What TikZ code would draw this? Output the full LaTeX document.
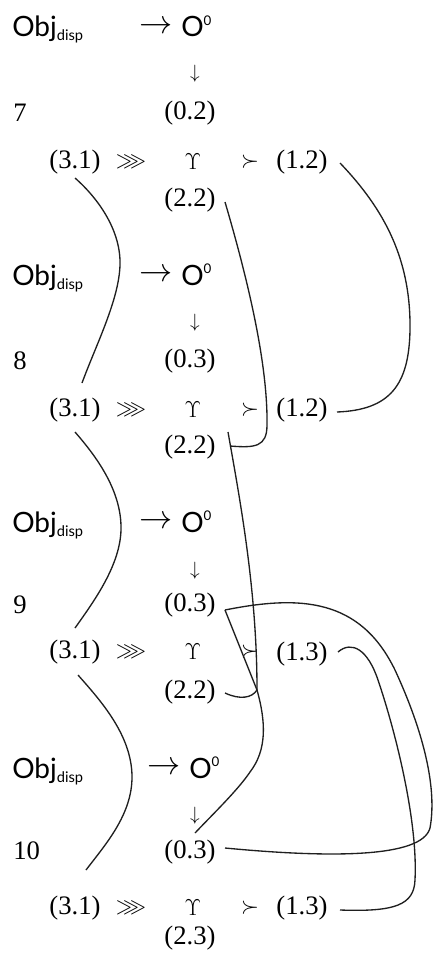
\documentclass[tikz,border=0pt]{standalone}
\usepackage{amssymb}
\usepackage{fontspec}
\newfontfamily\objfont{Lato}
\newfontfamily\numfont{Liberation Serif}
\usetikzlibrary{calc}
\tikzset{
  lbl/.style={inner sep=0pt, font=\numfont\fontsize{20}{24}\selectfont},
  ups/.style={inner sep=0pt, font=\fontsize{18}{20}\selectfont},
  sym/.style={inner sep=0pt, font=\fontsize{17}{20}\selectfont},
  arr/.style={inner sep=0pt, font=\fontsize{24}{26}\selectfont},
  darr/.style={inner sep=0pt, font=\fontsize{15}{18}\selectfont},
  objlbl/.style={inner sep=0pt, anchor=base west, font=\objfont\fontsize{21}{24}\selectfont},
  link/.style={draw=black!88, line width=1pt}
}
\newcommand{\objtxt}{Obj\raisebox{-3pt}{\fontsize{11}{11}\selectfont disp}}
\newcommand{\otxt}{O\raisebox{8.5pt}{\fontsize{10}{10}\selectfont 0}}
\begin{document}
\begin{tikzpicture}[x=0.75pt,y=-0.75pt]
\useasboundingbox (0,0) rectangle (435,959);
% block 7
\node[objlbl] (obj7) at (12,37) {\objtxt};
\node[arr] (ar7) at (156,27) {$\rightarrow$};
\node[objlbl] (o7) at (181,37) {\otxt};
\node[darr] (dn7) at (195,74) {$\downarrow$};
\node[lbl, anchor=west] (n7) at (13,113) {7};
\node[lbl] (z7) at (190,113) {(0.2)};
\node[lbl] (a7) at (75,162) {(3.1)};
\node[sym] (g7) at (131,162) {$\ggg$};
\node[ups] (u7) at (193,162) {$\Upsilon$};
\node[sym] (s7) at (250,162) {$\succ$};
\node[lbl] (c7) at (302,162) {(1.2)};
\node[lbl] (d7) at (190,200) {(2.2)};
% block 8
\node[objlbl] (obj8) at (12,285) {\objtxt};
\node[arr] (ar8) at (156,275) {$\rightarrow$};
\node[objlbl] (o8) at (181,285) {\otxt};
\node[darr] (dn8) at (195,323) {$\downarrow$};
\node[lbl, anchor=west] (n8) at (13,361) {8};
\node[lbl] (z8) at (190,361) {(0.3)};
\node[lbl] (a8) at (75,410) {(3.1)};
\node[sym] (g8) at (131,410) {$\ggg$};
\node[ups] (u8) at (193,410) {$\Upsilon$};
\node[sym] (s8) at (250,410) {$\succ$};
\node[lbl] (c8) at (302,410) {(1.2)};
\node[lbl] (d8) at (190,447) {(2.2)};
% block 9
\node[objlbl] (obj9) at (12,532) {\objtxt};
\node[arr] (ar9) at (156,522) {$\rightarrow$};
\node[objlbl] (o9) at (181,532) {\otxt};
\node[darr] (dn9) at (195,571) {$\downarrow$};
\node[lbl, anchor=west] (n9) at (13,605) {9};
\node[lbl] (z9) at (190,605) {(0.3)};
\node[lbl] (a9) at (75,652) {(3.1)};
\node[sym] (g9) at (131,652) {$\ggg$};
\node[ups] (u9) at (193,652) {$\Upsilon$};
\node[sym] (s9) at (250,652) {$\succ$};
\node[lbl] (c9) at (302,654) {(1.3)};
\node[lbl] (d9) at (190,692) {(2.2)};
% block 10
\node[objlbl] (obj10) at (12,778) {\objtxt};
\node[arr] (ar10) at (164,768) {$\rightarrow$};
\node[objlbl] (o10) at (189,778) {\otxt};
\node[darr] (dn10) at (195,816) {$\downarrow$};
\node[lbl, anchor=west] (n10) at (13,851) {10};
\node[lbl] (z10) at (190,852) {(0.3)};
\node[lbl] (a10) at (75,908) {(3.1)};
\node[sym] (g10) at (131,908) {$\ggg$};
\node[ups] (u10) at (193,908) {$\Upsilon$};
\node[sym] (s10) at (250,908) {$\succ$};
\node[lbl] (c10) at (302,908) {(1.3)};
\node[lbl] (d10) at (190,938) {(2.3)};
% junction
\coordinate (j9) at ($(d9)+(67,-2)$);
% connectors
\path[link] ($(a7)+(0,16)$) .. controls (100,200) and (121,232) .. (120,265)
  .. controls (119,300) and (96,345) .. ($(a8)+(7,-27)$);
\path[link] ($(a8)+(0,22)$) .. controls (95,455) and (122,490) .. (121,530)
  .. controls (120,565) and (95,600) .. ($(a9)+(0,-24)$);
\path[link] ($(a9)+(3,23)$) .. controls (100,700) and (132,735) .. (132,777)
  .. controls (132,815) and (105,845) .. ($(a10)+(11,-38)$);
\path[link] ($(d7)+(35,2)$) .. controls (245,270) and (268,360) .. (267,425)
  .. controls (267,447) and (255,448) .. ($(d8)+(40,-1)$);
\path[link] ($(d8)+(38,-15)$) .. controls (240,500) and (257,590) .. (j9);
\path[link] ($(d9)+(35,1)$) .. controls (240,700) and (252,698) .. (j9);
\path[link] ($(z9)+(35,5)$) -- (j9);
\path[link] (j9) .. controls (266,722) and (267,750) .. (250,772)
  .. controls (238,790) and (212,815) .. ($(z10)+(5,-19)$);
\path[link] ($(c7)+(38,1)$) .. controls (385,210) and (411,260) .. (410,330)
  .. controls (409,385) and (390,410) .. ($(c8)+(35,2)$);
\path[link] ($(z9)+(35,5)$) .. controls (300,595) and (360,598) .. (395,670)
  .. controls (425,735) and (437,790) .. (430,828)
  .. controls (422,858) and (330,858) .. ($(z10)+(35,-4)$);
\path[link] ($(c9)+(36,-2)$) .. controls (352,640) and (368,650) .. (378,680)
  .. controls (395,730) and (418,820) .. (415,880)
  .. controls (414,905) and (395,912) .. ($(c10)+(38,2)$);
\end{tikzpicture}
\end{document}
